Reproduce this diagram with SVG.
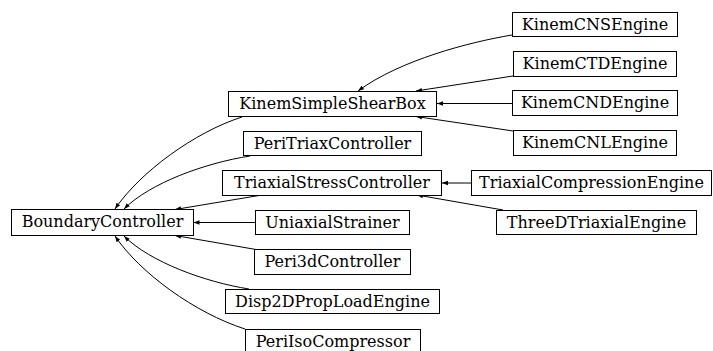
<svg xmlns="http://www.w3.org/2000/svg" width="713" height="351" viewBox="0 0 713 351">
<style>
.node rect{fill:#fff;stroke:#000;stroke-width:1}
.node text{font-family:"DejaVu Serif",serif;font-size:16px;fill:#000;text-anchor:middle}
.edges path{fill:none;stroke:#000;stroke-width:1}
</style>
<defs>
<marker id="ah" markerUnits="userSpaceOnUse" markerWidth="8" markerHeight="6" refX="6" refY="3" orient="auto">
<path d="M0,0.8 L6,3 L0,5.2 Z" fill="#000"/>
</marker>
</defs>
<rect width="713" height="351" fill="#fff"/>
<g class="edges">
<path marker-end="url(#ah)" d="M242,117 C195,132 140,172 115,209"/>
<path marker-end="url(#ah)" d="M250,156 C205,163 150,183 124,209"/>
<path marker-end="url(#ah)" d="M262,195 L175,209.5"/>
<path marker-end="url(#ah)" d="M255,222.5 L193.5,222.5"/>
<path marker-end="url(#ah)" d="M256,249.5 L175,235.5"/>
<path marker-end="url(#ah)" d="M249,289 C205,282 150,262 124,236"/>
<path marker-end="url(#ah)" d="M245,329 C195,313 140,273 115,236"/>
<path marker-end="url(#ah)" d="M512,35 C470,42 400,60 358,91"/>
<path marker-end="url(#ah)" d="M513,76 L416,91"/>
<path marker-end="url(#ah)" d="M512,103.5 L437,103.5"/>
<path marker-end="url(#ah)" d="M513,131 L416,116.5"/>
<path marker-end="url(#ah)" d="M472,183 L442,183"/>
<path marker-end="url(#ah)" d="M503,210 L417,195"/>
</g>
<g id="BoundaryController" class="node"><rect x="11.5" y="209.5" width="182" height="26"/><text x="102.5" y="227">BoundaryController</text></g>
<g id="KinemSimpleShearBox" class="node"><rect x="228.5" y="91.5" width="208" height="25"/><text x="332.5" y="109">KinemSimpleShearBox</text></g>
<g id="PeriTriaxController" class="node"><rect x="243.5" y="131.5" width="178" height="24"/><text x="332.5" y="149">PeriTriaxController</text></g>
<g id="TriaxialStressController" class="node"><rect x="222.5" y="170.5" width="219" height="25"/><text x="332" y="188">TriaxialStressController</text></g>
<g id="UniaxialStrainer" class="node"><rect x="255.5" y="210.5" width="154" height="24"/><text x="332.5" y="228">UniaxialStrainer</text></g>
<g id="Peri3dController" class="node"><rect x="254.5" y="249.5" width="156" height="25"/><text x="332.5" y="267">Peri3dController</text></g>
<g id="Disp2DPropLoadEngine" class="node"><rect x="225.5" y="289.5" width="214" height="24"/><text x="332.5" y="307">Disp2DPropLoadEngine</text></g>
<g id="PeriIsoCompressor" class="node"><rect x="245.5" y="329.5" width="175" height="25"/><text x="333" y="347">PeriIsoCompressor</text></g>
<g id="KinemCNSEngine" class="node"><rect x="512.5" y="12.5" width="165" height="24"/><text x="595" y="30">KinemCNSEngine</text></g>
<g id="KinemCTDEngine" class="node"><rect x="513.5" y="51.5" width="163" height="25"/><text x="595" y="69">KinemCTDEngine</text></g>
<g id="KinemCNDEngine" class="node"><rect x="512.5" y="90.5" width="165" height="25"/><text x="595" y="108">KinemCNDEngine</text></g>
<g id="KinemCNLEngine" class="node"><rect x="513.5" y="130.5" width="163" height="25"/><text x="595" y="148">KinemCNLEngine</text></g>
<g id="TriaxialCompressionEngine" class="node"><rect x="471.5" y="170.5" width="240" height="25"/><text x="591.5" y="188">TriaxialCompressionEngine</text></g>
<g id="ThreeDTriaxialEngine" class="node"><rect x="496.5" y="210.5" width="200" height="24"/><text x="596.5" y="228">ThreeDTriaxialEngine</text></g>
</svg>
